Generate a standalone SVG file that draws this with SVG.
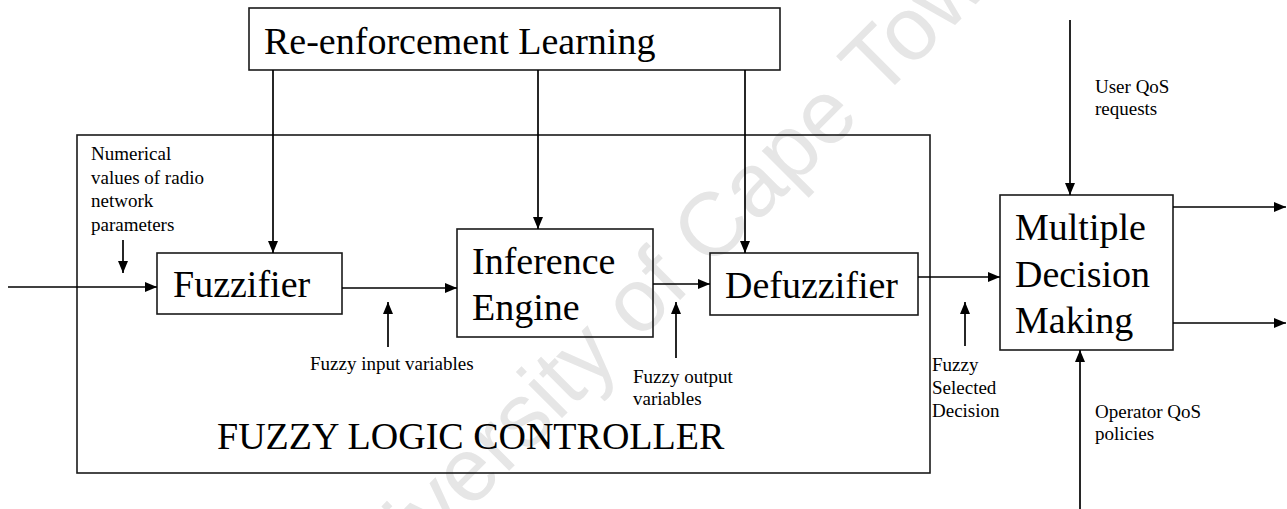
<svg xmlns="http://www.w3.org/2000/svg" width="1287" height="509" viewBox="0 0 1287 509">
<style>
.box{fill:none;stroke:#1a1a1a;stroke-width:1.6}
.big{font-family:"Liberation Serif","Times New Roman",serif;font-size:38px;fill:#000}
.sm{font-family:"Liberation Serif","Times New Roman",serif;font-size:19px;fill:#000}
.ln{fill:none;stroke:#000;stroke-width:1.7}
.wm{font-family:"Liberation Sans",Arial,sans-serif;font-size:90px;fill:#e6e6e6}
</style>
<defs>
<marker id="ah" markerWidth="12" markerHeight="10" refX="12" refY="5" orient="auto" markerUnits="userSpaceOnUse">
<path d="M0,0 L12,5 L0,10 z" fill="#000"/>
</marker>
</defs>
<rect x="0" y="0" width="1287" height="509" fill="#fff"/>
<text class="wm" transform="translate(342,638) rotate(-45)" x="0" y="0">University of Cape Town</text>

<g id="flc">
<rect class="box" x="77" y="135" width="853" height="338"/>
<text class="big" x="217" y="449">FUZZY LOGIC CONTROLLER</text>
</g>
<g id="rl">
<rect class="box" x="249" y="8" width="531" height="62" fill="#fff"/>
<text class="big" x="264" y="54">Re-enforcement Learning</text>
</g>
<g id="fuzzifier">
<rect class="box" x="157" y="253" width="185" height="61"/>
<text class="big" x="173" y="297">Fuzzifier</text>
</g>
<g id="inference">
<rect class="box" x="457" y="229" width="196" height="108"/>
<text class="big" x="472" y="274">Inference</text>
<text class="big" x="472" y="320">Engine</text>
</g>
<g id="defuzzifier">
<rect class="box" x="710" y="253" width="208" height="62"/>
<text class="big" x="725" y="298">Defuzzifier</text>
</g>
<g id="mdm">
<rect class="box" x="1000" y="195" width="173" height="155"/>
<text class="big" x="1015" y="240">Multiple</text>
<text class="big" x="1015" y="287">Decision</text>
<text class="big" x="1015" y="333">Making</text>
</g>

<g id="labels">
<text class="sm" x="91" y="160">Numerical</text>
<text class="sm" x="91" y="184">values of radio</text>
<text class="sm" x="91" y="207">network</text>
<text class="sm" x="91" y="231">parameters</text>
<text class="sm" x="310" y="370">Fuzzy input variables</text>
<text class="sm" x="633" y="383">Fuzzy output</text>
<text class="sm" x="633" y="405">variables</text>
<text class="sm" x="932" y="371">Fuzzy</text>
<text class="sm" x="932" y="394">Selected</text>
<text class="sm" x="932" y="417">Decision</text>
<text class="sm" x="1095" y="93">User QoS</text>
<text class="sm" x="1095" y="115">requests</text>
<text class="sm" x="1095" y="418">Operator QoS</text>
<text class="sm" x="1095" y="440">policies</text>
</g>

<g id="connectors">
<line class="ln" x1="273" y1="70" x2="273" y2="253" marker-end="url(#ah)"/>
<line class="ln" x1="538" y1="70" x2="538" y2="229" marker-end="url(#ah)"/>
<line class="ln" x1="745" y1="70" x2="745" y2="253" marker-end="url(#ah)"/>
<line class="ln" x1="8" y1="287" x2="157" y2="287" marker-end="url(#ah)"/>
<line class="ln" x1="123" y1="240" x2="123" y2="273" marker-end="url(#ah)"/>
<line class="ln" x1="342" y1="288" x2="457" y2="288" marker-end="url(#ah)"/>
<line class="ln" x1="653" y1="284" x2="710" y2="284" marker-end="url(#ah)"/>
<line class="ln" x1="918" y1="277" x2="1000" y2="277" marker-end="url(#ah)"/>
<line class="ln" x1="388" y1="347" x2="388" y2="302" marker-end="url(#ah)"/>
<line class="ln" x1="676" y1="358" x2="676" y2="302" marker-end="url(#ah)"/>
<line class="ln" x1="965" y1="346" x2="965" y2="302" marker-end="url(#ah)"/>
<line class="ln" x1="1070" y1="20" x2="1070" y2="195" marker-end="url(#ah)"/>
<line class="ln" x1="1080" y1="509" x2="1080" y2="350" marker-end="url(#ah)"/>
<line class="ln" x1="1173" y1="207" x2="1286" y2="207" marker-end="url(#ah)"/>
<line class="ln" x1="1173" y1="323" x2="1286" y2="323" marker-end="url(#ah)"/>
</g>
</svg>
